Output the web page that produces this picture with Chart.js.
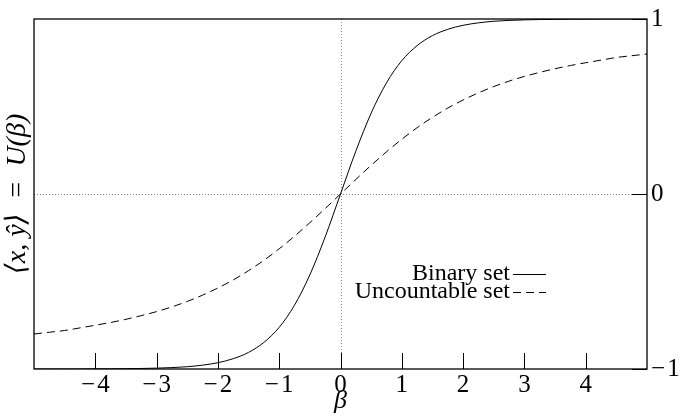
<!DOCTYPE html>
<html>
<head>
<meta charset="utf-8">
<script src="https://cdn.jsdelivr.net/npm/chart.js@4.4.1/dist/chart.umd.min.js"></script>
<style>
  html, body { margin: 0; padding: 0; background: #fff; }
  #wrap { width: 685px; height: 417px; }
</style>
</head>
<body>
<div id="wrap"><canvas id="chart"></canvas></div>
<script>
// beta values sampled along the x axis
const betas = [-5, -4.75, -4.5, -4.25, -4, -3.75, -3.5, -3.25, -3, -2.75, -2.5, -2.25, -2, -1.75, -1.5, -1.25, -1, -0.75, -0.5, -0.25,
  0, 0.25, 0.5, 0.75, 1, 1.25, 1.5, 1.75, 2, 2.25, 2.5, 2.75, 3, 3.25, 3.5, 3.75, 4, 4.25, 4.5, 4.75, 5];

// solid curve
const binarySet = [-1.000, -1.000, -1.000, -1.000, -0.999, -0.999, -0.998, -0.997, -0.995, -0.992, -0.987, -0.978, -0.964, -0.941, -0.905, -0.848, -0.762, -0.635, -0.462, -0.245,
  0, 0.245, 0.462, 0.635, 0.762, 0.848, 0.905, 0.941, 0.964, 0.978, 0.987, 0.992, 0.995, 0.997, 0.998, 0.999, 0.999, 1.000, 1.000, 1.000, 1.000];

// dashed curve
const uncountableSet = [-0.80, -0.79, -0.78, -0.765, -0.75, -0.734, -0.716, -0.695, -0.672, -0.645, -0.614, -0.578, -0.537, -0.491, -0.438, -0.379, -0.313, -0.241, -0.164, -0.083,
  0, 0.083, 0.164, 0.241, 0.313, 0.379, 0.438, 0.491, 0.537, 0.578, 0.614, 0.645, 0.672, 0.695, 0.716, 0.734, 0.75, 0.765, 0.78, 0.79, 0.80];

const seriesNames = ['Binary set', 'Uncountable set'];
const xTicks = [-4, -3, -2, -1, 0, 1, 2, 3, 4];
const yTicks = [-1, 0, 1];

const serif = "'Liberation Serif', 'DejaVu Serif', serif";

const pts = (ys) => betas.map((b, i) => ({ x: b, y: ys[i] }));
// math-style minus
const fmt = (v) => v < 0 ? '\u2212\u200a' + Math.abs(v) : String(v);

// frame, inward ticks, dotted zero lines and the legend
const decor = {
  id: 'decor',
  beforeDatasetsDraw(chart) {
    const { ctx, chartArea: a, scales } = chart;
    const x0 = scales.x.getPixelForValue(0);
    const y0 = scales.y.getPixelForValue(0);
    ctx.save();
    ctx.strokeStyle = '#888';
    ctx.lineWidth = 1;
    ctx.setLineDash([1, 2]);
    ctx.beginPath();
    ctx.moveTo(Math.round(x0) + 0.5, a.top);
    ctx.lineTo(Math.round(x0) + 0.5, a.bottom);
    ctx.moveTo(a.left, Math.round(y0) + 0.5);
    ctx.lineTo(a.right, Math.round(y0) + 0.5);
    ctx.stroke();
    ctx.restore();
  },
  afterDatasetsDraw(chart) {
    const { ctx, chartArea: a, scales } = chart;
    ctx.save();
    ctx.strokeStyle = '#000';
    ctx.lineWidth = 1.3;
    ctx.setLineDash([]);
    ctx.strokeRect(a.left, a.top, a.right - a.left, a.bottom - a.top);
    ctx.lineWidth = 1;
    ctx.beginPath();
    xTicks.forEach(v => {
      const px = Math.round(scales.x.getPixelForValue(v)) + 0.5;
      ctx.moveTo(px, a.bottom);
      ctx.lineTo(px, a.bottom - 16);
    });
    yTicks.forEach(v => {
      const py = Math.round(scales.y.getPixelForValue(v)) + 0.5;
      ctx.moveTo(a.right, py);
      ctx.lineTo(a.right - 15, py);
    });
    ctx.stroke();

    // legend: label on the left, line sample on the right
    ctx.font = '24px ' + serif;
    ctx.fillStyle = '#000';
    ctx.textAlign = 'right';
    ctx.textBaseline = 'middle';
    const textRight = 510;
    chart.data.datasets.forEach((ds, i) => {
      const yy = 274 + i * 18;
      ctx.fillText(ds.label, textRight, yy);
      ctx.setLineDash(ds.borderDash || []);
      ctx.beginPath();
      ctx.moveTo(textRight + 3, yy + 0.5);
      ctx.lineTo(textRight + 36, yy + 0.5);
      ctx.stroke();
    });
    ctx.restore();
  }
};

new Chart(document.getElementById('chart'), {
  type: 'line',
  data: {
    datasets: [
      {
        label: seriesNames[0],
        data: pts(binarySet),
        borderColor: '#000',
        borderWidth: 1,
        pointRadius: 0,
        cubicInterpolationMode: 'monotone',
        yAxisID: 'y'
      },
      {
        label: seriesNames[1],
        data: pts(uncountableSet),
        borderColor: '#000',
        borderWidth: 1,
        borderDash: [8, 5],
        pointRadius: 0,
        cubicInterpolationMode: 'monotone',
        yAxisID: 'y'
      }
    ]
  },
  options: {
    responsive: true,
    maintainAspectRatio: false,
    animation: false,
    layout: { padding: { top: 19, left: 0, right: 0, bottom: 0 } },
    plugins: {
      legend: { display: false },
      tooltip: { enabled: false }
    },
    scales: {
      x: {
        type: 'linear',
        min: -5,
        max: 5,
        afterBuildTicks: (s) => { s.ticks = xTicks.map(v => ({ value: v })); },
        afterFit: (s) => { s.height = 48; },
        grid: { display: false, drawTicks: false },
        border: { display: false },
        ticks: {
          color: '#000',
          padding: 1,
          font: { family: serif, size: 25 },
          callback: fmt
        },
        title: {
          display: true,
          text: 'β',
          color: '#000',
          padding: 0,
          font: { family: serif, size: 26, style: 'italic' }
        }
      },
      yl: {
        type: 'linear',
        position: 'left',
        min: -1,
        max: 1,
        afterFit: (s) => { s.width = 34; },
        grid: { display: false, drawTicks: false },
        border: { display: false },
        ticks: { display: false },
        title: {
          display: true,
          text: '⟨x, ŷ⟩  =  U(β)',
          color: '#000',
          padding: { top: 1, bottom: 0 },
          font: { family: serif, size: 28, style: 'italic' }
        }
      },
      y: {
        type: 'linear',
        position: 'right',
        min: -1,
        max: 1,
        afterBuildTicks: (s) => { s.ticks = yTicks.map(v => ({ value: v })); },
        afterFit: (s) => { s.width = 38; },
        grid: { display: false, drawTicks: false },
        border: { display: false },
        ticks: {
          color: '#000',
          padding: 4,
          font: { family: serif, size: 25 },
          callback: fmt
        }
      }
    }
  },
  plugins: [decor]
});
</script>
</body>
</html>
